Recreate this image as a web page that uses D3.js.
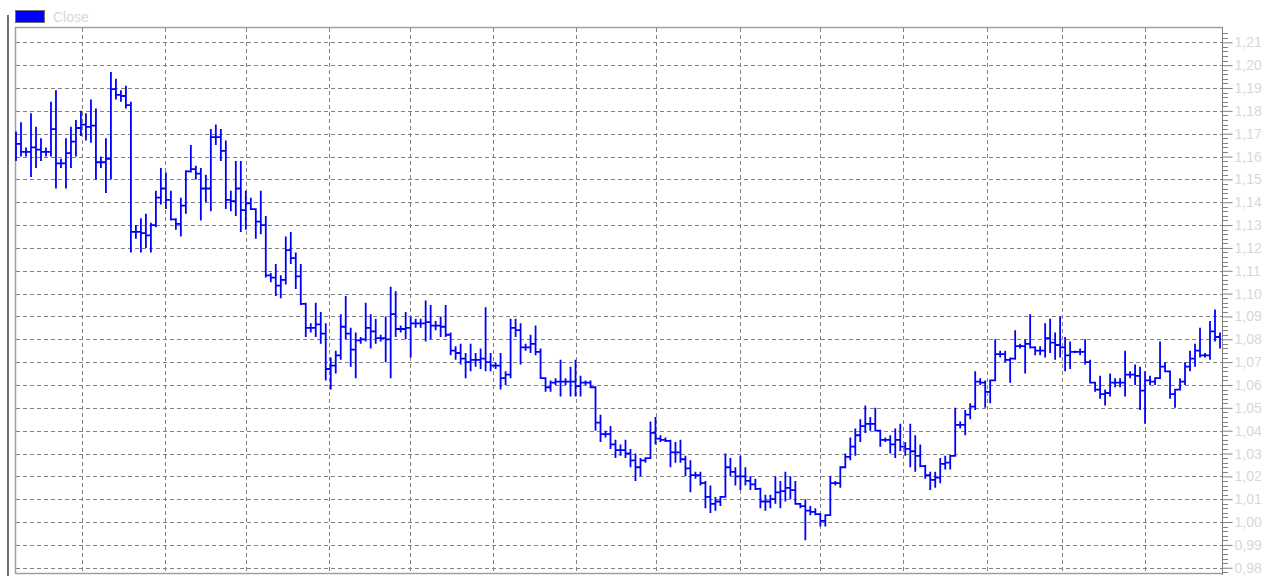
<!DOCTYPE html>
<html><head><meta charset="utf-8">
<script src="https://cdn.jsdelivr.net/npm/d3@7"></script>
<style>body{margin:0;background:#fff;}svg{display:block;}</style>
</head><body>
<svg id="chart" width="1282" height="581"></svg>
<script>
const seriesName = "Close";
const startDate = new Date(2017, 1, 4, 10);
const endDate = new Date(2018, 3, 28, 22);
const lows = [
1.158,1.160,1.160,1.151,1.155,1.158,1.160,1.160,1.146,1.155,
1.146,1.155,1.160,1.169,1.167,1.166,1.150,1.155,1.144,1.150,
1.185,1.184,1.181,1.118,1.124,1.118,1.120,1.118,1.129,1.139,
1.137,1.132,1.128,1.125,1.135,1.153,1.150,1.132,1.140,1.136,
1.165,1.158,1.137,1.136,1.134,1.127,1.128,1.137,1.124,1.126,
1.107,1.105,1.099,1.098,1.104,1.113,1.102,1.095,1.081,1.083,
1.081,1.078,1.062,1.058,1.065,1.071,1.080,1.068,1.063,1.078,
1.079,1.076,1.078,1.079,1.070,1.063,1.081,1.083,1.080,1.072,
1.085,1.085,1.079,1.080,1.084,1.081,1.081,1.073,1.071,1.069,
1.063,1.066,1.068,1.067,1.066,1.066,1.067,1.058,1.060,1.063,
1.081,1.069,1.075,1.074,1.073,1.063,1.057,1.057,1.060,1.055,
1.060,1.055,1.055,1.055,1.060,1.059,1.040,1.035,1.037,1.032,
1.028,1.029,1.028,1.024,1.018,1.020,1.026,1.034,1.034,1.035,
1.035,1.024,1.026,1.026,1.020,1.013,1.019,1.016,1.006,1.004,
1.005,1.007,1.017,1.020,1.016,1.014,1.016,1.014,1.014,1.006,
1.005,1.006,1.008,1.006,1.009,1.010,1.008,1.006,0.992,1.003,
1.003,0.998,0.998,1.015,1.016,1.015,1.024,1.027,1.029,1.035,
1.039,1.040,1.040,1.033,1.035,1.030,1.028,1.031,1.029,1.024,
1.022,1.024,1.019,1.014,1.015,1.017,1.023,1.023,1.037,1.041,
1.038,1.045,1.049,1.060,1.050,1.052,1.065,1.072,1.070,1.061,
1.071,1.076,1.065,1.076,1.073,1.073,1.072,1.074,1.071,1.072,
1.066,1.067,1.074,1.073,1.069,1.061,1.057,1.054,1.051,1.055,
1.059,1.059,1.055,1.063,1.060,1.049,1.043,1.060,1.060,1.066,
1.066,1.054,1.050,1.060,1.060,1.066,1.068,1.072,1.072,1.071,1.079,1.076
];
const highs = [
1.171,1.175,1.164,1.179,1.173,1.168,1.164,1.184,1.189,1.159,
1.168,1.173,1.176,1.180,1.179,1.185,1.181,1.160,1.168,1.197,
1.194,1.189,1.191,1.184,1.130,1.133,1.135,1.131,1.145,1.155,
1.153,1.145,1.133,1.142,1.154,1.165,1.156,1.155,1.152,1.172,
1.174,1.172,1.167,1.145,1.158,1.158,1.145,1.142,1.137,1.145,
1.134,1.109,1.113,1.108,1.125,1.127,1.118,1.113,1.096,1.087,
1.096,1.092,1.087,1.072,1.075,1.091,1.099,1.085,1.083,1.081,
1.096,1.091,1.089,1.082,1.090,1.103,1.101,1.086,1.092,1.090,
1.089,1.089,1.097,1.095,1.088,1.090,1.095,1.083,1.077,1.078,
1.074,1.078,1.074,1.076,1.094,1.074,1.070,1.074,1.066,1.089,
1.089,1.087,1.078,1.082,1.086,1.076,1.061,1.062,1.063,1.071,
1.063,1.068,1.071,1.064,1.062,1.062,1.050,1.047,1.040,1.042,
1.036,1.034,1.036,1.032,1.030,1.028,1.028,1.044,1.046,1.038,
1.037,1.036,1.035,1.036,1.029,1.027,1.022,1.022,1.018,1.016,
1.011,1.011,1.030,1.028,1.024,1.029,1.024,1.020,1.019,1.015,
1.012,1.012,1.020,1.018,1.022,1.020,1.018,1.008,1.010,1.007,
1.006,1.004,1.003,1.020,1.018,1.024,1.030,1.037,1.041,1.045,
1.051,1.046,1.050,1.040,1.037,1.038,1.041,1.043,1.035,1.043,
1.038,1.034,1.025,1.022,1.022,1.028,1.029,1.029,1.050,1.044,
1.049,1.052,1.066,1.063,1.062,1.062,1.080,1.075,1.075,1.072,
1.084,1.078,1.080,1.091,1.077,1.077,1.087,1.089,1.083,1.090,
1.081,1.079,1.075,1.076,1.080,1.071,1.059,1.064,1.058,1.065,
1.063,1.063,1.075,1.066,1.069,1.068,1.066,1.064,1.063,1.079,
1.070,1.061,1.058,1.063,1.070,1.075,1.078,1.085,1.074,1.088,1.093,1.083
];
const yTickValues = [0.98,0.99,1.00,1.01,1.02,1.03,1.04,1.05,1.06,1.07,1.08,1.09,1.10,1.11,1.12,1.13,1.14,1.15,1.16,1.17,1.18,1.19,1.20,1.21];

(function () {
const svg = d3.select("#chart");
const pLeft = 15, pRight = 1222, pTop = 27, pBottom = 573;
const x = d3.scaleTime().domain([startDate, endDate]).range([16, 1220]);
const y = d3.scaleLinear().domain([0.9777, 1.2167]).range([pBottom, pTop]);
const n = lows.length;
const dates = lows.map((_, i) => new Date(+startDate + i * (endDate - startDate) / (n - 1)));
const font = "Liberation Sans, Arial, sans-serif";

svg.append("line").attr("x1", 8).attr("x2", 8).attr("y1", 15).attr("y2", 576)
  .attr("stroke", "#404040").attr("stroke-width", 1.5);

svg.append("rect").attr("x", 15.5).attr("y", 10.5).attr("width", 29).attr("height", 12)
  .attr("fill", "#0000ff").attr("stroke", "#707070").attr("stroke-width", 1);
svg.append("text").attr("x", 53).attr("y", 21.5).text(seriesName)
  .attr("font-family", font).attr("font-size", 14).attr("fill", "#d8d8d8");

const grid = svg.append("g").attr("stroke", "#808080").attr("stroke-dasharray", "4,3").attr("stroke-width", 1);
grid.selectAll("line.h").data(yTickValues).join("line")
  .attr("x1", pLeft + 1).attr("x2", pRight)
  .attr("y1", d => Math.round(y(d)) + 0.5).attr("y2", d => Math.round(y(d)) + 0.5);
const months = d3.timeMonth.range(d3.timeMonth.ceil(startDate), endDate);
grid.selectAll("line.v").data(months).join("line")
  .attr("x1", d => Math.round(x(d)) + 0.5).attr("x2", d => Math.round(x(d)) + 0.5)
  .attr("y1", pTop + 1).attr("y2", pBottom);

svg.append("path").attr("d", `M${pRight + 0.5},${pTop + 0.5}H${pLeft + 0.5}V${pBottom + 0.5}H${pRight + 0.5}`)
  .attr("fill", "none").attr("stroke", "#a0a0a0").attr("stroke-width", 1.5);

// series path: vertical stroke over each bar's range, joined by short horizontal links
const pts = [];
let entry = lows[0];
for (let i = 0; i < n; i++) {
  const lo = lows[i], hi = highs[i];
  let link;
  if (i < n - 1) {
    const oLo = Math.max(lo, lows[i + 1]), oHi = Math.min(hi, highs[i + 1]);
    link = Math.min(hi, Math.max(lo, (oLo + oHi) / 2));
  } else link = lo;
  pts.push([dates[i], entry], [dates[i], lo], [dates[i], hi], [dates[i], link]);
  if (i < n - 1) pts.push([dates[i + 1], link]);
  entry = link;
}
const line = d3.line().x(d => x(d[0])).y(d => y(d[1]));
svg.append("path").datum(pts).attr("d", line).attr("fill", "none")
  .attr("stroke", "#0000ff").attr("stroke-width", 1.8).attr("stroke-linejoin", "miter");

const axis = d3.axisRight(y).tickValues(yTickValues).tickSize(10).tickPadding(2)
  .tickFormat(d => d3.format(".2f")(d).replace(".", ","));
const ag = svg.append("g").attr("transform", `translate(${pRight + 0.5},0)`).call(axis);
ag.select(".domain").attr("stroke", "#808080").attr("d", `M0,${pTop}V${pBottom + 2}`);
ag.selectAll(".tick line").attr("stroke", "#808080");
ag.selectAll(".tick text").attr("fill", "#d8d8d8").attr("font-family", font).attr("font-size", 14);
const minor = d3.range(0, 119).map(k => +(0.978 + k * 0.002).toFixed(3)).filter(v => v <= 1.216 && Math.abs(v * 100 - Math.round(v * 100)) > 1e-6);
svg.append("g").selectAll("line").data(minor).join("line")
  .attr("x1", pRight).attr("x2", pRight + 6)
  .attr("y1", d => Math.round(y(d)) + 0.5).attr("y2", d => Math.round(y(d)) + 0.5)
  .attr("stroke", "#808080");
})();
</script>
</body></html>
